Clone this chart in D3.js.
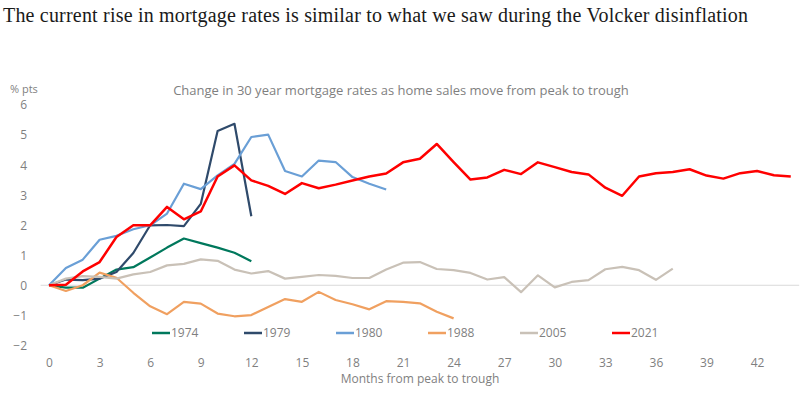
<!DOCTYPE html>
<html>
<head>
<meta charset="utf-8">
<script src="https://cdn.jsdelivr.net/npm/d3@7"></script>
<style>
  body { margin: 0; background: #fff; }
  svg { display: block; }
  .title { font-family: "Liberation Serif", "DejaVu Serif", serif; font-size: 20px; fill: #1a1a1a; }
  .lbl { font-family: "Open Sans", "Noto Sans", sans-serif; fill: #7f7f7f; }
</style>
</head>
<body>
<svg id="chart" width="803" height="398"></svg>
<script>
// months from peak to trough (category axis)
const months = d3.range(0, 45);
const xTicks = [0, 3, 6, 9, 12, 15, 18, 21, 24, 27, 30, 33, 36, 39, 42];
const yTicks = [-2, -1, 0, 1, 2, 3, 4, 5, 6];

const seriesNames = ['1974', '1979', '1980', '1988', '2005', '2021'];
const seriesColors = ['#00785c', '#2f4a6b', '#6a9fd6', '#f0a060', '#c9c1b7', '#ff0000'];

// change in 30y mortgage rate, % pts
const s1974 = [0, -0.08, -0.08, 0.22, 0.52, 0.6, 0.92, 1.25, 1.55, 1.4, 1.25, 1.08, 0.8];
const s1979 = [0, 0.19, 0.17, 0.22, 0.44, 1.07, 1.99, 2.0, 1.96, 2.7, 5.12, 5.36, 2.29];
const s1980 = [0, 0.57, 0.85, 1.51, 1.64, 1.86, 1.99, 2.38, 3.37, 3.19, 3.65, 4.03, 4.92, 5.0,
  3.79, 3.61, 4.14, 4.09, 3.59, 3.37, 3.18];
const s1988 = [0, -0.19, 0, 0.42, 0.25, -0.25, -0.7, -0.96, -0.55, -0.61, -0.94, -1.03, -0.99,
  -0.72, -0.46, -0.55, -0.22, -0.49, -0.63, -0.8, -0.53, -0.55, -0.6, -0.88, -1.1];
const s2005 = [0, 0.22, 0.3, 0.28, 0.22, 0.36, 0.44, 0.66, 0.71, 0.86, 0.81, 0.52, 0.39, 0.47,
  0.22, 0.28, 0.34, 0.31, 0.24, 0.24, 0.52, 0.75, 0.77, 0.54, 0.5, 0.41, 0.19, 0.27, -0.23,
  0.33, -0.07, 0.11, 0.17, 0.53, 0.61, 0.5, 0.18, 0.55];
const s2021 = [0, 0.02, 0.46, 0.77, 1.6, 1.99, 1.99, 2.6, 2.19, 2.45, 3.61, 3.98, 3.48, 3.3,
  3.03, 3.39, 3.22, 3.34, 3.48, 3.61, 3.71, 4.08, 4.2, 4.69, 4.09, 3.51, 3.58, 3.83, 3.69,
  4.08, 3.92, 3.76, 3.68, 3.24, 2.97, 3.61, 3.72, 3.76, 3.85, 3.64, 3.54, 3.72, 3.79, 3.65, 3.61];

const seriesValues = [s1974, s1979, s1980, s1988, s2005, s2021];

const svg = d3.select('#chart');

const x = d3.scalePoint().domain(months).range([40.6, 799.2]).padding(0.5);
const y = d3.scaleLinear().domain([-2, 6]).range([345.5, 104.5]);

svg.append('text')
    .attr('class', 'title')
    .attr('x', 3)
    .attr('y', 22)
    .attr('textLength', 745)
    .attr('lengthAdjust', 'spacing')
    .text('The current rise in mortgage rates is similar to what we saw during the Volcker disinflation');

svg.append('text')
    .attr('class', 'lbl')
    .attr('x', 401)
    .attr('y', 95)
    .attr('text-anchor', 'middle')
    .style('font-size', '13px')
    .text('Change in 30 year mortgage rates as home sales move from peak to trough');

svg.append('text')
    .attr('class', 'lbl')
    .attr('x', 10)
    .attr('y', 93)
    .style('font-size', '11px')
    .text('% pts');

// zero line
svg.append('line')
    .attr('x1', 40.6).attr('x2', 799.2)
    .attr('y1', y(0)).attr('y2', y(0))
    .attr('stroke', '#d9d9d9')
    .attr('stroke-width', 1);

// y axis labels
const yAxis = svg.append('g')
    .attr('transform', 'translate(27,0.5)')
    .call(d3.axisLeft(y).tickValues(yTicks).tickSize(0).tickPadding(0));
yAxis.select('.domain').remove();
yAxis.selectAll('text')
    .attr('class', 'lbl')
    .style('font-size', '12px')
    .attr('font-family', null);

// x axis labels
const xAxis = svg.append('g')
    .attr('transform', 'translate(0,358.5)')
    .call(d3.axisBottom(x).tickValues(xTicks).tickSize(0).tickPadding(0));
xAxis.select('.domain').remove();
xAxis.selectAll('text')
    .attr('class', 'lbl')
    .style('font-size', '12px')
    .attr('font-family', null);

svg.append('text')
    .attr('class', 'lbl')
    .attr('x', 420)
    .attr('y', 383)
    .attr('text-anchor', 'middle')
    .style('font-size', '12px')
    .text('Months from peak to trough');

const line = d3.line()
    .x((d, i) => x(months[i]))
    .y(d => y(d));

svg.append('g')
  .selectAll('path')
  .data(seriesValues)
  .join('path')
    .attr('d', line)
    .attr('fill', 'none')
    .attr('stroke', (d, i) => seriesColors[i])
    .attr('stroke-width', (d, i) => seriesNames[i] === '2021' ? 2.5 : 2.2)
    .attr('stroke-linejoin', 'round');

// legend
const legend = svg.append('g')
  .selectAll('g')
  .data(seriesNames)
  .join('g')
    .attr('transform', (d, i) => `translate(${152 + i * 92},333)`);

legend.append('line')
    .attr('x1', 0).attr('x2', 18)
    .attr('stroke', (d, i) => seriesColors[i])
    .attr('stroke-width', 2.5);

legend.append('text')
    .attr('class', 'lbl')
    .attr('x', 19)
    .attr('dy', '0.35em')
    .style('font-size', '12px')
    .text(d => d);
</script>
</body>
</html>
